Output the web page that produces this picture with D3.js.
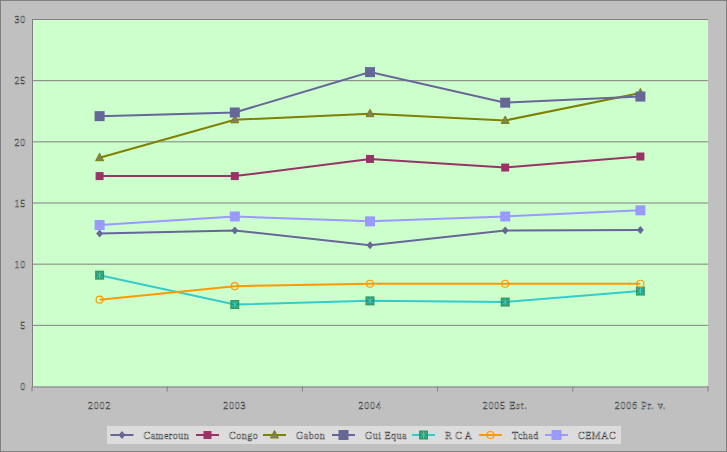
<!DOCTYPE html>
<html>
<head>
<meta charset="utf-8">
<script src="https://cdn.jsdelivr.net/npm/d3@7"></script>
<style>
  body { margin: 0; background: #c0c0c0; }
  svg { display: block; }
  text { font-family: "Liberation Serif", "DejaVu Serif", serif; font-size: 10px; }
</style>
</head>
<body>
<svg id="chart" width="727" height="452"></svg>
<script>
const years = ['2002', '2003', '2004', '2005 Est.', '2006 Pr. v.'];
const yTicks = [0, 5, 10, 15, 20, 25, 30];

const cameroun = [12.5, 12.75, 11.55, 12.75, 12.8];
const congo = [17.2, 17.2, 18.6, 17.9, 18.8];
const gabon = [18.7, 21.8, 22.3, 21.75, 24.0];
const guiEqua = [22.1, 22.4, 25.7, 23.2, 23.7];
const rca = [9.1, 6.7, 7.0, 6.9, 7.8];
const tchad = [7.1, 8.2, 8.4, 8.4, 8.4];
const cemac = [13.2, 13.9, 13.5, 13.9, 14.4];

const series = [
    { name: 'Cameroun', values: cameroun, color: '#666699', marker: 'diamond' },
    { name: 'Congo', values: congo, color: '#993366', marker: 'square' },
    { name: 'Gabon', values: gabon, color: '#808000', marker: 'triangle' },
    { name: 'Gui Equa', values: guiEqua, color: '#666699', marker: 'bigsquare' },
    { name: 'R C A', values: rca, color: '#33cccc', marker: 'star' },
    { name: 'Tchad', values: tchad, color: '#ff9900', marker: 'circle' },
    { name: 'CEMAC', values: cemac, color: '#9999ff', marker: 'bigsquare' }
];

const svg = d3.select('#chart');
const plot = { left: 32, top: 19.5, right: 708, bottom: 386.5 };

// outer frame
svg.append('rect')
    .attr('x', 0.5).attr('y', 0.5).attr('width', 726).attr('height', 451)
    .attr('fill', '#c0c0c0').attr('stroke', '#808080');

const x = d3.scaleBand().domain(years).range([plot.left, plot.right]);
const y = d3.scaleLinear().domain([0, 30]).range([plot.bottom, plot.top]);

svg.append('rect')
    .attr('x', plot.left).attr('y', plot.top)
    .attr('width', plot.right - plot.left).attr('height', plot.bottom - plot.top)
    .attr('fill', '#ccffcc');

// gridlines
svg.append('g').selectAll('line')
    .data(yTicks.slice(1))
    .join('line')
    .attr('x1', plot.left).attr('x2', plot.right)
    .attr('y1', d => y(d)).attr('y2', d => y(d))
    .attr('stroke', '#808080');

// y axis
const yAxis = svg.append('g')
    .attr('transform', 'translate(' + plot.left + ',0)')
    .call(d3.axisLeft(y).tickValues(yTicks).tickSize(0).tickPadding(6));
yAxis.select('.domain').attr('stroke', '#808080');

// x axis
const xAxis = svg.append('g')
    .attr('transform', 'translate(0,' + plot.bottom + ')')
    .call(d3.axisBottom(x).tickSize(0).tickPadding(15));
xAxis.select('.domain').attr('stroke', '#808080');
xAxis.selectAll('.xcat')
    .data(d3.range(years.length + 1))
    .join('line')
    .attr('x1', d => plot.left + d * x.step()).attr('x2', d => plot.left + d * x.step())
    .attr('y1', 0).attr('y2', 5)
    .attr('stroke', '#808080');

svg.selectAll('.tick text')
    .attr('fill', '#ffffff')
    .attr('stroke', '#303030')
    .attr('stroke-width', 0.4)
    .style('letter-spacing', '0.8px')
    .style('font-family', '"Liberation Serif", serif')
    .style('font-size', '10px');

function drawMarker(g, type, color) {
    if (type === 'diamond') {
        g.append('path').attr('d', 'M0,-4L3.5,0L0,4L-3.5,0Z').attr('fill', color);
    } else if (type === 'square') {
        g.append('rect').attr('x', -4).attr('y', -4).attr('width', 8).attr('height', 8).attr('fill', color);
    } else if (type === 'bigsquare') {
        g.append('rect').attr('x', -5).attr('y', -5).attr('width', 10).attr('height', 10).attr('fill', color);
    } else if (type === 'triangle') {
        g.append('path').attr('d', 'M0,-4.5L4,3L-4,3Z')
            .attr('fill', '#808060').attr('stroke', color).attr('stroke-width', 1);
    } else if (type === 'star') {
        g.append('rect').attr('x', -4.5).attr('y', -4.5).attr('width', 9).attr('height', 9).attr('fill', '#339966');
        g.append('path').attr('d', 'M0,-3.5V3.5M-3,-2.5L3,2.5M3,-2.5L-3,2.5')
            .attr('stroke', color).attr('stroke-width', 1);
    } else if (type === 'circle') {
        g.append('circle').attr('r', 3.5).attr('fill', 'none').attr('stroke', color).attr('stroke-width', 1.2);
    }
}

const line = d3.line()
    .x((d, i) => x(years[i]) + x.bandwidth() / 2)
    .y(d => y(d));

series.forEach(s => {
    svg.append('path')
        .datum(s.values)
        .attr('d', line)
        .attr('fill', 'none')
        .attr('stroke', s.color)
        .attr('stroke-width', 2);
    s.values.forEach((v, i) => {
        let g = svg.append('g')
            .attr('transform', 'translate(' + (x(years[i]) + x.bandwidth() / 2) + ',' + y(v) + ')');
        drawMarker(g, s.marker, s.color);
    });
});

// legend
const legend = svg.append('g');
legend.append('rect')
    .attr('x', 107).attr('y', 426).attr('width', 514).attr('height', 18)
    .attr('fill', '#dcdcdc');

const legendX = [110.5, 196, 263, 332, 412, 479, 545];
series.forEach((s, i) => {
    let g = legend.append('g').attr('transform', 'translate(' + legendX[i] + ',435)');
    g.append('line').attr('x1', 0).attr('x2', 23).attr('stroke', s.color).attr('stroke-width', 2);
    let m = g.append('g').attr('transform', 'translate(11.5,0)');
    drawMarker(m, s.marker, s.color);
    g.append('text')
        .attr('x', 33).attr('y', 3.5)
        .attr('fill', '#ffffff')
        .attr('stroke', '#303030')
        .attr('stroke-width', 0.4)
        .style('letter-spacing', '0.5px')
        .text(s.name);
});
</script>
</body>
</html>
